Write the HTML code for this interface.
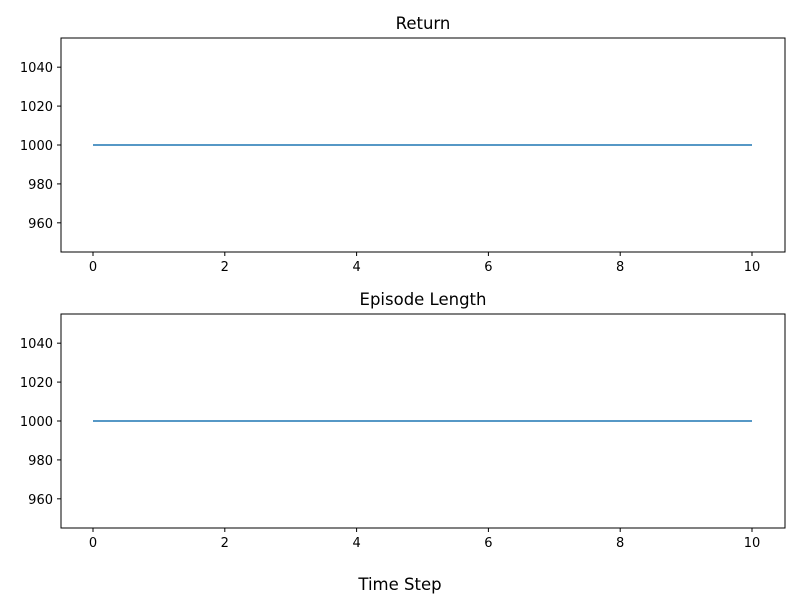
<!DOCTYPE html>
<html><head><meta charset="utf-8"><style>
body{margin:0;background:#fff;}
svg{display:block;font-family:"DejaVu Sans","Liberation Sans",sans-serif;}
</style></head><body>
<svg id="chart" width="800" height="600" xmlns="http://www.w3.org/2000/svg">
<rect width="800" height="600" fill="#fff"/>
<text x="400" y="590" text-anchor="middle" font-size="16.5">Time Step</text>
</svg>
<script>
const timeSteps = [0,1,2,3,4,5,6,7,8,9,10];
const returnValues = [1000,1000,1000,1000,1000,1000,1000,1000,1000,1000,1000];
const lengthValues = [1000,1000,1000,1000,1000,1000,1000,1000,1000,1000,1000];
const xTicks = [0,2,4,6,8,10];
const yTicks = [960,980,1000,1020,1040];
const titles = ["Return","Episode Length"];

const svg = document.getElementById('chart');
const NS = "http://www.w3.org/2000/svg";
function mk(tag, attrs){const e=document.createElementNS(NS,tag);for(const k in attrs)e.setAttribute(k,attrs[k]);return e;}
const L=61,R=785,x0=93,x1=752;
const xs=v=>x0+(v-0)/(10-0)*(x1-x0);
const panels=[{top:38,bot:252,data:returnValues,key:'return'},{top:314,bot:528,data:lengthValues,key:'episode-length'}];
panels.forEach((p,i)=>{
  const g=mk('g',{});
  
  
  svg.appendChild(g);
  const ys=v=>p.top+(1055-v)/(110)*(p.bot-p.top);
  const frame=mk('rect',{x:L,y:p.top,width:R-L,height:p.bot-p.top,fill:'none',stroke:'#000','stroke-width':1});
  
  
  g.appendChild(frame);
  const t=mk('text',{x:(L+R)/2,y:p.top-9,'text-anchor':'middle','font-size':16.5});
  t.textContent=titles[i];
  
  
  g.appendChild(t);
  xTicks.forEach(v=>{
    const x=xs(v);
    const tk=mk('line',{x1:x,x2:x,y1:p.bot,y2:p.bot+4,stroke:'#000'});
    
    
    g.appendChild(tk);
    const tl=mk('text',{x:x,y:p.bot+19,'text-anchor':'middle','font-size':13});
    tl.textContent=v;
    
    
    g.appendChild(tl);
  });
  yTicks.forEach(v=>{
    const y=ys(v);
    const tk=mk('line',{x1:L-4,x2:L,y1:y,y2:y,stroke:'#000'});
    
    
    g.appendChild(tk);
    const tl=mk('text',{x:L-8,y:y+5,'text-anchor':'end','font-size':13});
    tl.textContent=v;
    
    
    g.appendChild(tl);
  });
  const pts=timeSteps.map((s,j)=>xs(s)+','+ys(p.data[j])).join(' ');
  const line=mk('polyline',{points:pts,fill:'none',stroke:'#1f77b4','stroke-width':1.5});
  
  
  g.appendChild(line);
});
</script>
</body></html>
